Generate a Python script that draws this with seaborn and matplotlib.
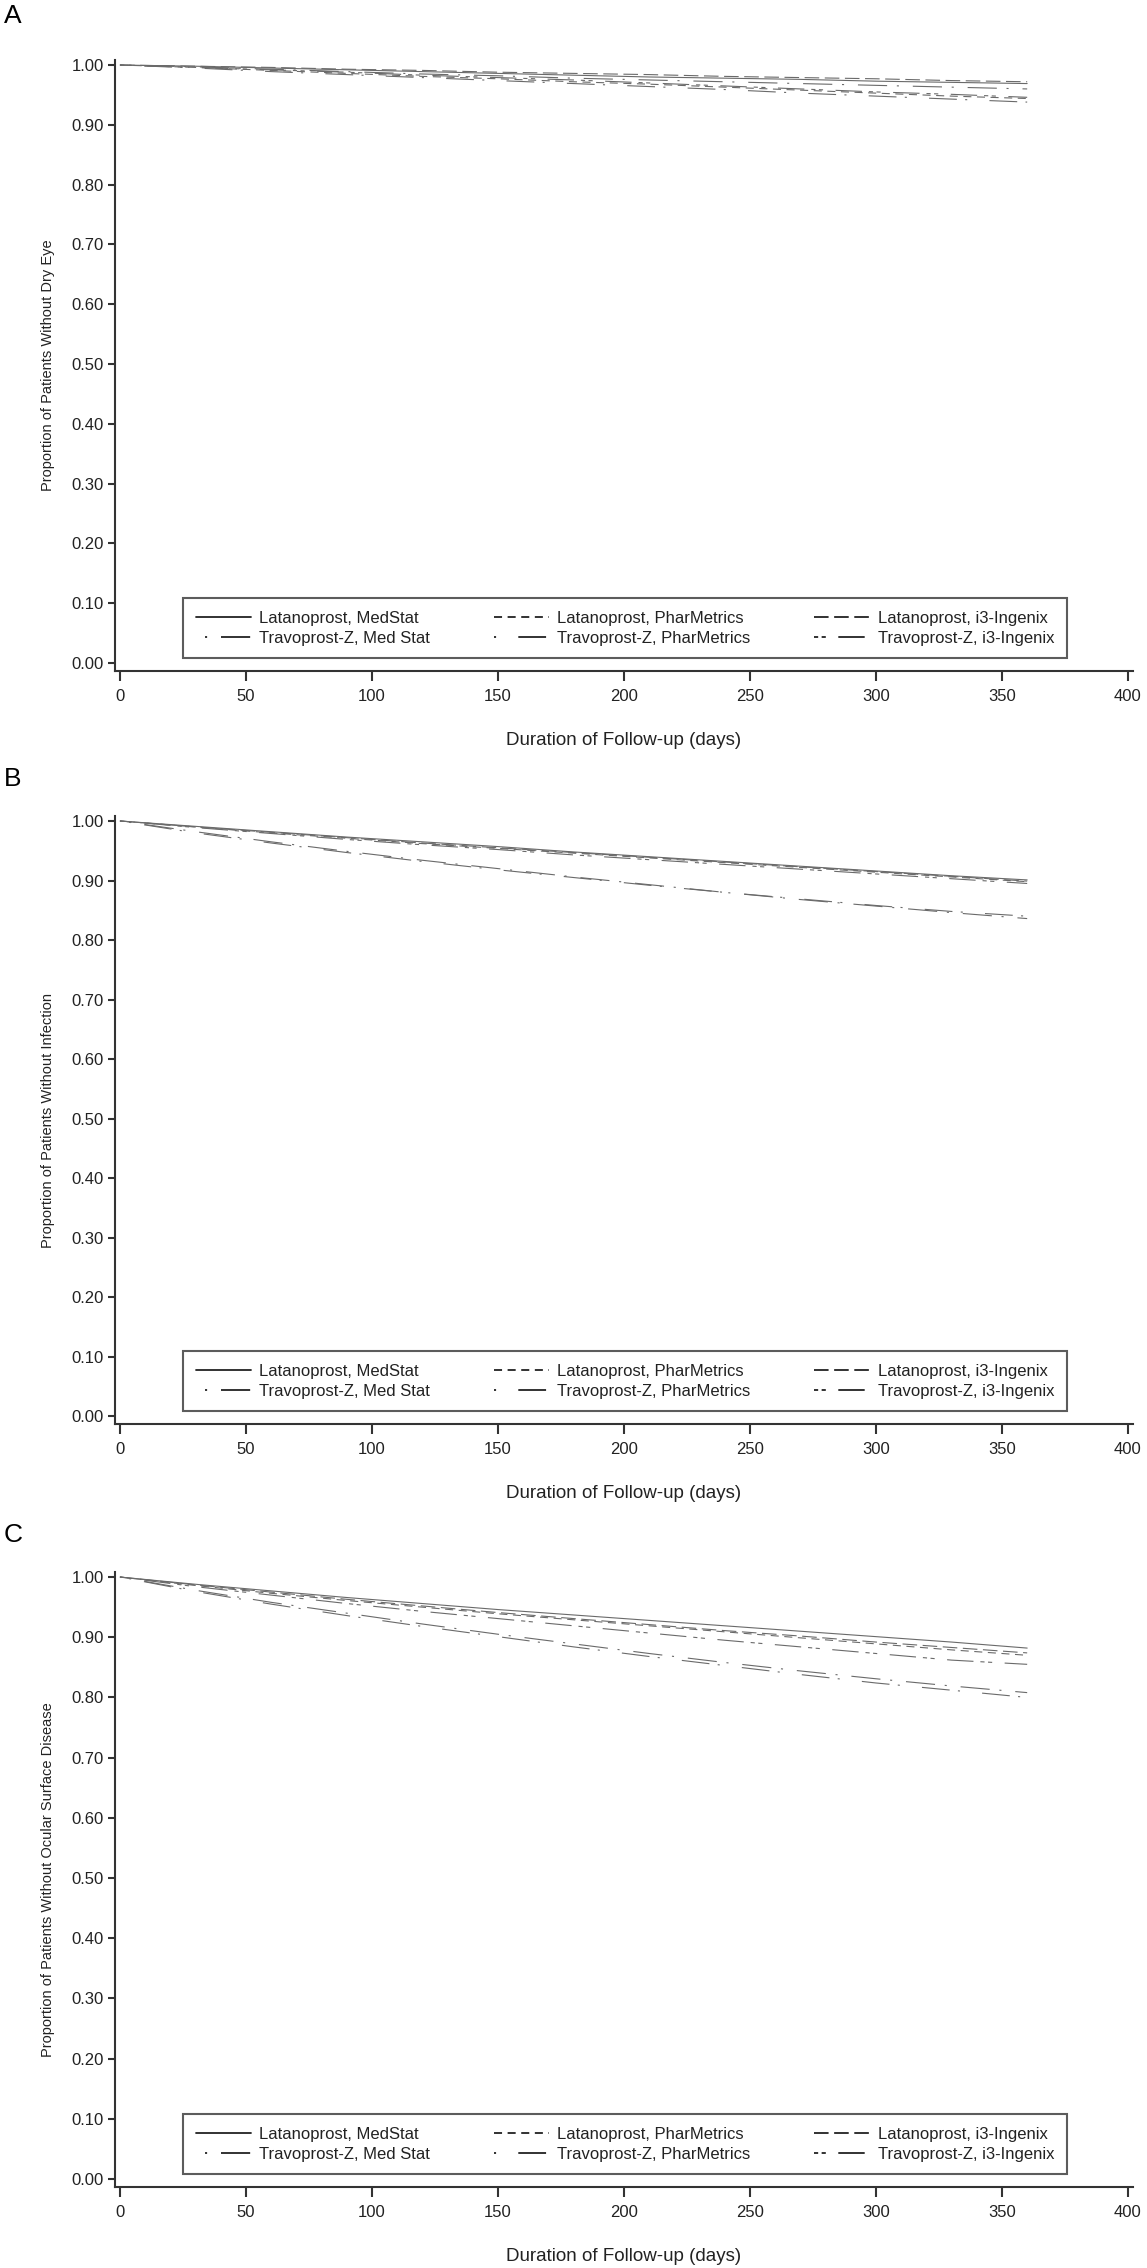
import matplotlib
matplotlib.use("Agg")
import matplotlib.pyplot as plt
from matplotlib.lines import Line2D
import seaborn as sns
import pandas as pd

days = [0, 30, 60, 90, 120, 150, 180, 210, 240, 270, 300, 330, 360]

labels = ["Latanoprost, MedStat", "Travoprost-Z, Med Stat",
          "Latanoprost, PharMetrics", "Travoprost-Z, PharMetrics",
          "Latanoprost, i3-Ingenix", "Travoprost-Z, i3-Ingenix"]

# panel A: dry eye
a_lat_med = [1.0, 0.998, 0.995, 0.992, 0.989, 0.986, 0.983, 0.980, 0.978, 0.976, 0.973, 0.971, 0.969]
a_trav_med = [1.0, 0.997, 0.993, 0.989, 0.985, 0.982, 0.978, 0.975, 0.972, 0.969, 0.966, 0.963, 0.960]
a_lat_ph = [1.0, 0.996, 0.991, 0.986, 0.981, 0.977, 0.972, 0.968, 0.963, 0.958, 0.953, 0.948, 0.944]
a_trav_ph = [1.0, 0.995, 0.989, 0.984, 0.979, 0.974, 0.969, 0.964, 0.959, 0.953, 0.948, 0.943, 0.938]
a_lat_i3 = [1.0, 0.998, 0.996, 0.993, 0.991, 0.988, 0.986, 0.984, 0.981, 0.979, 0.977, 0.974, 0.972]
a_trav_i3 = [1.0, 0.996, 0.992, 0.988, 0.983, 0.979, 0.975, 0.970, 0.965, 0.960, 0.955, 0.951, 0.946]

# panel B: infection
b_lat_med = [1.0, 0.991, 0.982, 0.973, 0.965, 0.957, 0.948, 0.940, 0.932, 0.924, 0.916, 0.908, 0.901]
b_trav_med = [1.0, 0.982, 0.965, 0.949, 0.934, 0.920, 0.906, 0.893, 0.880, 0.868, 0.857, 0.846, 0.836]
b_lat_ph = [1.0, 0.990, 0.980, 0.971, 0.962, 0.954, 0.946, 0.938, 0.930, 0.922, 0.914, 0.906, 0.898]
b_trav_ph = [1.0, 0.980, 0.963, 0.947, 0.932, 0.918, 0.905, 0.892, 0.880, 0.869, 0.858, 0.848, 0.840]
b_lat_i3 = [1.0, 0.990, 0.981, 0.972, 0.963, 0.955, 0.947, 0.939, 0.931, 0.923, 0.915, 0.907, 0.899]
b_trav_i3 = [1.0, 0.989, 0.979, 0.969, 0.960, 0.952, 0.943, 0.935, 0.927, 0.919, 0.911, 0.903, 0.895]

# panel C: ocular surface disease
c_lat_med = [1.0, 0.988, 0.977, 0.966, 0.956, 0.946, 0.937, 0.928, 0.919, 0.910, 0.901, 0.892, 0.882]
c_trav_med = [1.0, 0.978, 0.958, 0.940, 0.922, 0.905, 0.889, 0.873, 0.858, 0.844, 0.831, 0.819, 0.808]
c_lat_ph = [1.0, 0.986, 0.973, 0.961, 0.950, 0.939, 0.929, 0.919, 0.909, 0.899, 0.889, 0.879, 0.870]
c_trav_ph = [1.0, 0.976, 0.955, 0.936, 0.918, 0.901, 0.884, 0.868, 0.853, 0.838, 0.824, 0.812, 0.800]
c_lat_i3 = [1.0, 0.987, 0.975, 0.963, 0.952, 0.941, 0.931, 0.921, 0.911, 0.902, 0.892, 0.883, 0.874]
c_trav_i3 = [1.0, 0.984, 0.970, 0.956, 0.943, 0.931, 0.919, 0.907, 0.895, 0.884, 0.873, 0.862, 0.855]

panel_letters = ["A", "B", "C"]
ylabels = ["Proportion of Patients Without Dry Eye",
           "Proportion of Patients Without Infection",
           "Proportion of Patients Without Ocular Surface Disease"]
panel_data = [
    [a_lat_med, a_trav_med, a_lat_ph, a_trav_ph, a_lat_i3, a_trav_i3],
    [b_lat_med, b_trav_med, b_lat_ph, b_trav_ph, b_lat_i3, b_trav_i3],
    [c_lat_med, c_trav_med, c_lat_ph, c_trav_ph, c_lat_i3, c_trav_i3],
]

# dash patterns (points)
styles = [
    "-",
    (33, (1.5, 10, 21, 7)),
    (0, (5.8, 4.0)),
    (0, (1.5, 16, 20, 6)),
    (0, (10.5, 4.0)),
    (0, (3, 2.5, 3, 9, 19, 5)),
]

sns.set_theme(style="ticks")
plt.rcParams["font.family"] = ["Liberation Sans", "DejaVu Sans"]
plt.rcParams["lines.scale_dashes"] = False

W, H = 1147, 2268
fig = plt.figure(figsize=(W / 100, H / 100), dpi=100)

# axes boxes in pixels: (top, bottom)
boxes = [(60, 671), (816, 1424), (1572, 2187)]
letter_y = [16, 779, 1535]
left_px, right_px = 115, 1133
ink = "#222222"

for k in range(3):
    top, bot = boxes[k]
    ax = fig.add_axes([left_px / W, 1 - bot / H, (right_px - left_px) / W, (bot - top) / H])
    rows = []
    for lab, vals in zip(labels, panel_data[k]):
        for d, v in zip(days, vals):
            rows.append({"day": d, "surv": v, "group": lab})
    df = pd.DataFrame(rows)
    for lab, ls in zip(labels, styles):
        sub = df[df["group"] == lab]
        sns.lineplot(data=sub, x="day", y="surv", ax=ax, color="#6a6a6a",
                     lw=0.8, linestyle=ls, estimator=None, legend=False)

    ax.set_xlim(-2, 402)
    ax.set_ylim(-0.0134, 1.0084)
    ax.set_xticks(range(0, 401, 50))
    ax.set_yticks([i / 10 for i in range(11)])
    ax.set_yticklabels([f"{i / 10:.2f}" for i in range(11)])
    ax.tick_params(axis="both", labelsize=12, colors="#333333", labelcolor=ink,
                   width=1.5, direction="out")
    ax.tick_params(axis="x", length=7, pad=6)
    ax.tick_params(axis="y", length=5, pad=3)
    sns.despine(ax=ax)
    for s in ["left", "bottom"]:
        ax.spines[s].set_color("#333333")
        ax.spines[s].set_linewidth(1.5)
    ax.set_xlabel("Duration of Follow-up (days)", fontsize=13.5, color=ink, labelpad=20)
    ax.set_ylabel(ylabels[k], fontsize=10.5, color=ink, labelpad=12)

    handles = [Line2D([0], [0], color="#222222", lw=1.3, linestyle=ls) for ls in styles]
    leg = ax.legend(handles, labels, ncol=3, mode="expand",
                    bbox_to_anchor=(0.0668, 0.021, 0.868, 0.099), loc="lower left",
                    fontsize=12, frameon=True, fancybox=False, handlelength=3.3,
                    handletextpad=0.5, labelspacing=0.3, borderaxespad=0,
                    borderpad=0.75, columnspacing=1.0)
    leg.get_frame().set_edgecolor("#333333")
    leg.get_frame().set_linewidth(1.5)
    for t in leg.get_texts():
        t.set_color(ink)

    fig.text(4 / W, 1 - letter_y[k] / H, panel_letters[k], fontsize=19,
             color="black", ha="left", va="center")

fig.savefig("out.png", dpi=100)
